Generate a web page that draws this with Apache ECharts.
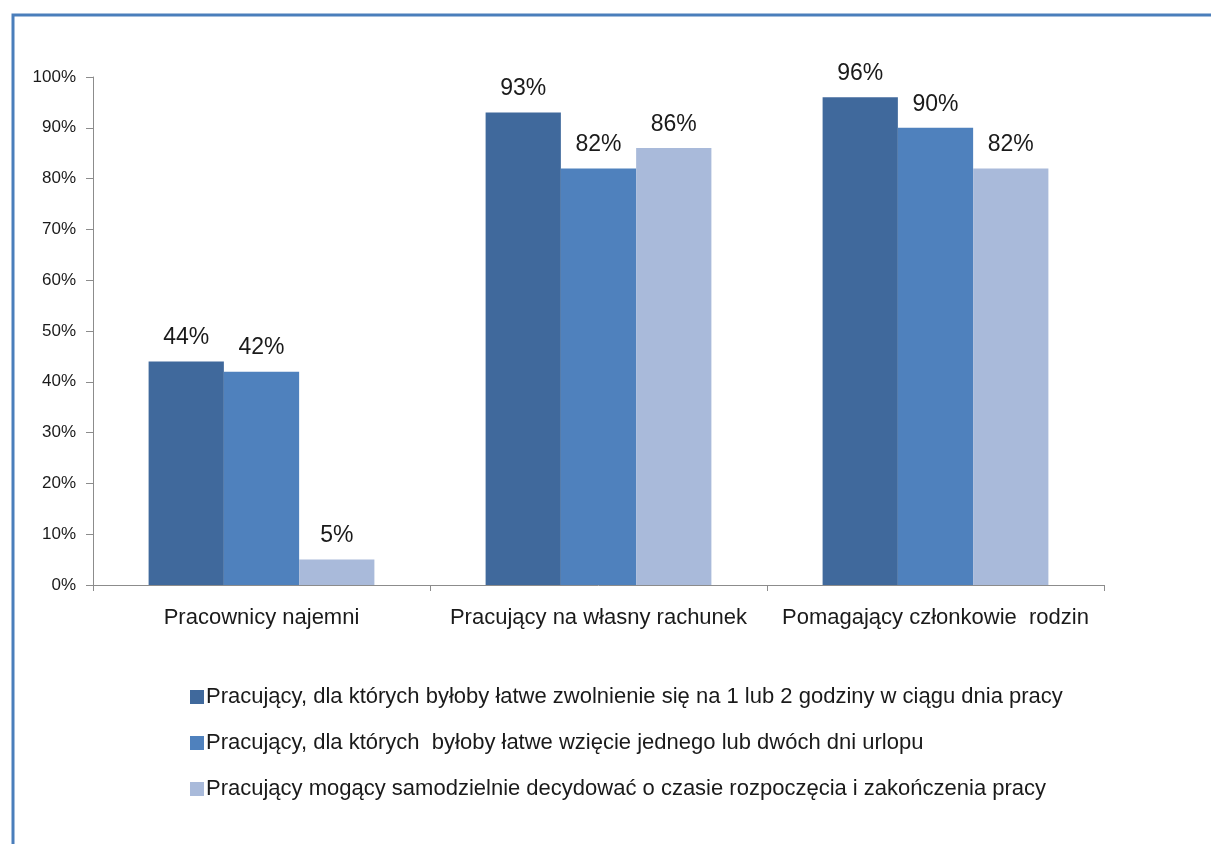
<!DOCTYPE html>
<html>
<head>
<meta charset="utf-8">
<script src="https://cdn.jsdelivr.net/npm/echarts@6/dist/echarts.min.js"></script>
<style>
  html, body { margin: 0; padding: 0; background: #fff; }
  #chart { width: 1211px; height: 844px; }
</style>
</head>
<body>
<div id="chart"></div>
<script>
const categories = ['Pracownicy najemni', 'Pracujący na własny rachunek', 'Pomagający członkowie  rodzin']
const seriesNames = [
  'Pracujący, dla których byłoby łatwe zwolnienie się na 1 lub 2 godziny w ciągu dnia pracy',
  'Pracujący, dla których  byłoby łatwe wzięcie jednego lub dwóch dni urlopu',
  'Pracujący mogący samodzielnie decydować o czasie rozpoczęcia i zakończenia pracy'
]
const hoursOff = [44, 93, 96]
const daysOff = [42, 82, 90]
const flexibleTime = [5, 86, 82]
const yTicks = [0, 10, 20, 30, 40, 50, 60, 70, 80, 90, 100]

const colors = ['#40699C', '#4F81BD', '#A9BADA']
const font = 'Liberation Sans, Arial, sans-serif'

const chart = echarts.init(document.getElementById('chart'))

const makeSeries = (name, values, color) => ({
  name: name,
  type: 'bar',
  data: values,
  barGap: '0%',
  barCategoryGap: '33%',
  itemStyle: { color: color },
  label: {
    show: true,
    position: 'top',
    distance: 12,
    formatter: '{c}%',
    color: '#1a1a1a',
    fontSize: 23,
    fontFamily: font
  }
})

const option = {
  backgroundColor: '#fff',
  animation: false,
  color: colors,
  graphic: [
    {
      type: 'polyline',
      shape: { points: [[13, 844], [13, 15], [1211, 15]] },
      style: { stroke: '#4A7EBB', lineWidth: 3, fill: null }
    }
  ],
  grid: { left: 93, right: 107, top: 77, bottom: 259 },
  legend: {
    orient: 'vertical',
    left: 185,
    top: 681,
    itemWidth: 14,
    itemHeight: 14,
    itemGap: 24,
    icon: 'rect',
    textStyle: { fontSize: 22, color: '#1a1a1a', fontFamily: font, padding: [0, 0, 0, -3] },
    data: seriesNames
  },
  xAxis: {
    type: 'category',
    data: categories,
    axisLine: { lineStyle: { color: '#8c8c8c', width: 1 } },
    axisTick: { show: true, interval: 0, length: 6, lineStyle: { color: '#8c8c8c' } },
    axisLabel: { interval: 0, color: '#1a1a1a', fontSize: 22, fontFamily: font, margin: 22 }
  },
  yAxis: {
    type: 'value',
    min: yTicks[0],
    max: yTicks[yTicks.length - 1],
    interval: 10,
    axisLine: { show: true, lineStyle: { color: '#8c8c8c', width: 1 } },
    axisTick: { show: true, length: 7, lineStyle: { color: '#8c8c8c' } },
    axisLabel: { color: '#1a1a1a', fontSize: 17, fontFamily: font, margin: 17, formatter: '{value}%' },
    splitLine: { show: false }
  },
  series: [
    makeSeries(seriesNames[0], hoursOff, colors[0]),
    makeSeries(seriesNames[1], daysOff, colors[1]),
    makeSeries(seriesNames[2], flexibleTime, colors[2])
  ]
}

chart.setOption(option)
</script>
</body>
</html>
